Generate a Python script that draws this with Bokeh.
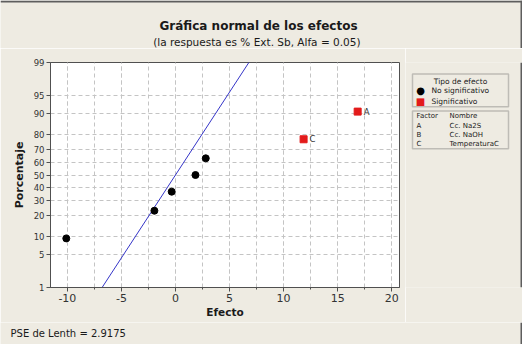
from statistics import NormalDist
from bokeh.plotting import figure
from bokeh.layouts import column, row
from bokeh.models import Label, BoxAnnotation, FixedTicker, SingleIntervalTicker, Range1d
from bokeh.embed import file_html
from bokeh.resources import INLINE
from bokeh.core.properties import value

# ---------------- data ----------------
effects = [-10.1, -1.95, -0.35, 1.85, 2.8, 11.85, 16.85]
percents = [9.5, 23.0, 36.5, 50.0, 63.5, 77.0, 90.5]
significant = [False, False, False, False, False, True, True]
effect_labels = ["", "", "", "", "", "C", "A"]
factor_codes = ["A", "B", "C"]
factor_names = ["Cc. Na2S", "Cc. NaOH", "TemperaturaC"]
y_ticks = [1, 5, 10, 20, 30, 40, 50, 60, 70, 80, 90, 95, 99]
x_ticks = [-10, -5, 0, 5, 10, 15, 20]
pse = 2.9175
alpha = 0.05
line_effect = [-9.0, 9.0]

FONT = "DejaVu Sans"
BG = "#EEEBE2"
DARK = "#505050"
EDGE = "#5e5e5e"
GRID = "#c4c4c4"
RED = "#E31B1B"
BLUE = "#3535C8"
TXT = "#1a1a1a"

nd = NormalDist()


def zq(pct):
    return nd.inv_cdf(pct / 100.0)


W, H = 522, 344
TOP_H = 48          # title strip
MID_H = 274         # plot row
BOT_H = H - TOP_H - MID_H
MAIN_W = 405
LEG_W = W - MAIN_W

# ---------------- main plot ----------------
X0, X1 = -11.56, 20.72
Y0, Y1 = zq(1), zq(99)

p = figure(width=MAIN_W, height=MID_H, output_backend="svg", toolbar_location=None,
           x_range=Range1d(X0, X1), y_range=Range1d(Y0, Y1),
           min_border_left=50, min_border_right=MAIN_W - 399, min_border_top=62 - TOP_H,
           min_border_bottom=TOP_H + MID_H - 287,
           background_fill_color="white", border_fill_color=BG,
           outline_line_color=DARK, outline_line_width=1)

p.xaxis.ticker = SingleIntervalTicker(interval=5, num_minor_ticks=2)
p.xaxis.major_label_overrides = {v: str(v) for v in x_ticks}
yt = [zq(v) for v in y_ticks]
p.yaxis.ticker = FixedTicker(ticks=yt)
p.yaxis.major_label_overrides = {t: str(v) for t, v in zip(yt, y_ticks)}

for ax in p.axis:
    ax.axis_line_color = DARK
    ax.major_tick_line_color = DARK
    ax.minor_tick_line_color = DARK
    ax.major_tick_in = 0
    ax.major_tick_out = 4
    ax.minor_tick_in = 0
    ax.minor_tick_out = 2
    ax.major_label_text_font = FONT
    ax.major_label_text_color = "#333333"
    ax.axis_label_text_font = FONT
    ax.axis_label_text_font_style = "bold"
    ax.axis_label_text_color = TXT

p.xaxis.axis_label = "Efecto"
p.xaxis.major_label_text_font_size = "11px"
p.xaxis.major_label_standoff = 2
p.xaxis.axis_label_text_font_size = "10.5px"
p.xaxis.axis_label_standoff = 1

p.yaxis.axis_label = "Porcentaje"
p.yaxis.major_label_text_font_size = "8.5px"
p.yaxis.major_label_standoff = 2
p.yaxis.axis_label_text_font_size = "11px"
p.yaxis.axis_label_standoff = 5

for g in (p.xgrid, p.ygrid):
    g.grid_line_color = GRID
    g.grid_line_dash = "4 3"
p.xgrid.minor_grid_line_color = GRID
p.xgrid.minor_grid_line_dash = "4 3"

# fitted line (x = PSE * z)
p.line(line_effect, [e / pse for e in line_effect], color=BLUE, line_width=1)

ns_x = [e for e, s in zip(effects, significant) if not s]
ns_y = [zq(q) for q, s in zip(percents, significant) if not s]
sg_x = [e for e, s in zip(effects, significant) if s]
sg_y = [zq(q) for q, s in zip(percents, significant) if s]
sg_l = [l for l, s in zip(effect_labels, significant) if s]

p.scatter(ns_x, ns_y, marker="circle", size=7, color="black")
p.scatter(sg_x, sg_y, marker="square", size=7, color=RED)
p.text(sg_x, sg_y, text=sg_l, x_offset=6, text_baseline="middle",
       text_font=value(FONT), text_font_size="8.5px", text_color="#333333")


# ---------------- text panels (page-pixel coordinates) ----------------
def text_fig(w, h):
    f = figure(width=w, height=h, output_backend="svg", toolbar_location=None,
               x_range=Range1d(0, w), y_range=Range1d(0, h),
               x_axis_type=None, y_axis_type=None, min_border=0,
               outline_line_color=None, background_fill_color=BG, border_fill_color=BG)
    return f


def add_label(f, ox, oy, X, Y, text, size, bold=False, align="left", color=TXT):
    h = f.height
    f.add_layout(Label(x=X - ox, y=h - (Y - oy), text=text,
                       text_font=FONT, text_font_size=size,
                       text_font_style="bold" if bold else "normal",
                       text_align=align, text_baseline="middle", text_color=color))


def add_box(f, ox, oy, XA, YA, XB, YB, fill=None, line=DARK, lw=1.5):
    h = f.height
    f.add_layout(BoxAnnotation(left=XA - ox, right=XB - ox, top=h - (YA - oy), bottom=h - (YB - oy),
                               fill_color=fill, fill_alpha=1 if fill else 0,
                               line_color=line, line_width=lw))


# title strip
top = text_fig(W, TOP_H)
add_box(top, 0, 0, 0, 0, W, 2, fill=EDGE, line=None, lw=0)
add_box(top, 0, 0, W - 2, 0, W, TOP_H, fill=EDGE, line=None, lw=0)
add_label(top, 0, 0, 258, 25, "Gráfica normal de los efectos", "12px", bold=True, align="center")
add_label(top, 0, 0, 258, 41, f"(la respuesta es % Ext. Sb, Alfa =  {alpha:.2f})", "10.5px",
          align="center")

# legend panel
leg = text_fig(LEG_W, MID_H)
LX, LY = MAIN_W, TOP_H
add_box(leg, LX, LY, W - 2, LY, W, LY + MID_H, fill=EDGE, line=None, lw=0)
add_box(leg, LX, LY, 412, 62, 508, 102)
add_box(leg, LX, LY, 412, 107, 508, 153)
add_label(leg, LX, LY, 460, 71, "Tipo de efecto", "7.5px", align="center")
add_label(leg, LX, LY, 420, 82.5, "●", "10px", align="center", color="black")
add_label(leg, LX, LY, 431, 82.5, "No significativo", "7.5px")
add_label(leg, LX, LY, 420, 95.5, "■", "10px", align="center", color=RED)
add_label(leg, LX, LY, 431, 95.5, "Significativo", "7.5px")
add_label(leg, LX, LY, 416, 113.5, "Factor", "7px")
add_label(leg, LX, LY, 449, 113.5, "Nombre", "7px")
for i, (c, n) in enumerate(zip(factor_codes, factor_names)):
    add_label(leg, LX, LY, 416, 125 + 11.2 * i, c, "7px")
    add_label(leg, LX, LY, 449, 125 + 11.2 * i, n, "7px")

# bottom strip
bot = text_fig(W, BOT_H)
BY = TOP_H + MID_H
add_box(bot, 0, BY, W - 2, BY, W, H, fill=EDGE, line=None, lw=0)
add_label(bot, 0, BY, 10, 333, f"PSE de Lenth = {pse}", "10px")

layout = column(top, row(p, leg), bot)
open("out.html", "w").write(file_html(layout, INLINE))
